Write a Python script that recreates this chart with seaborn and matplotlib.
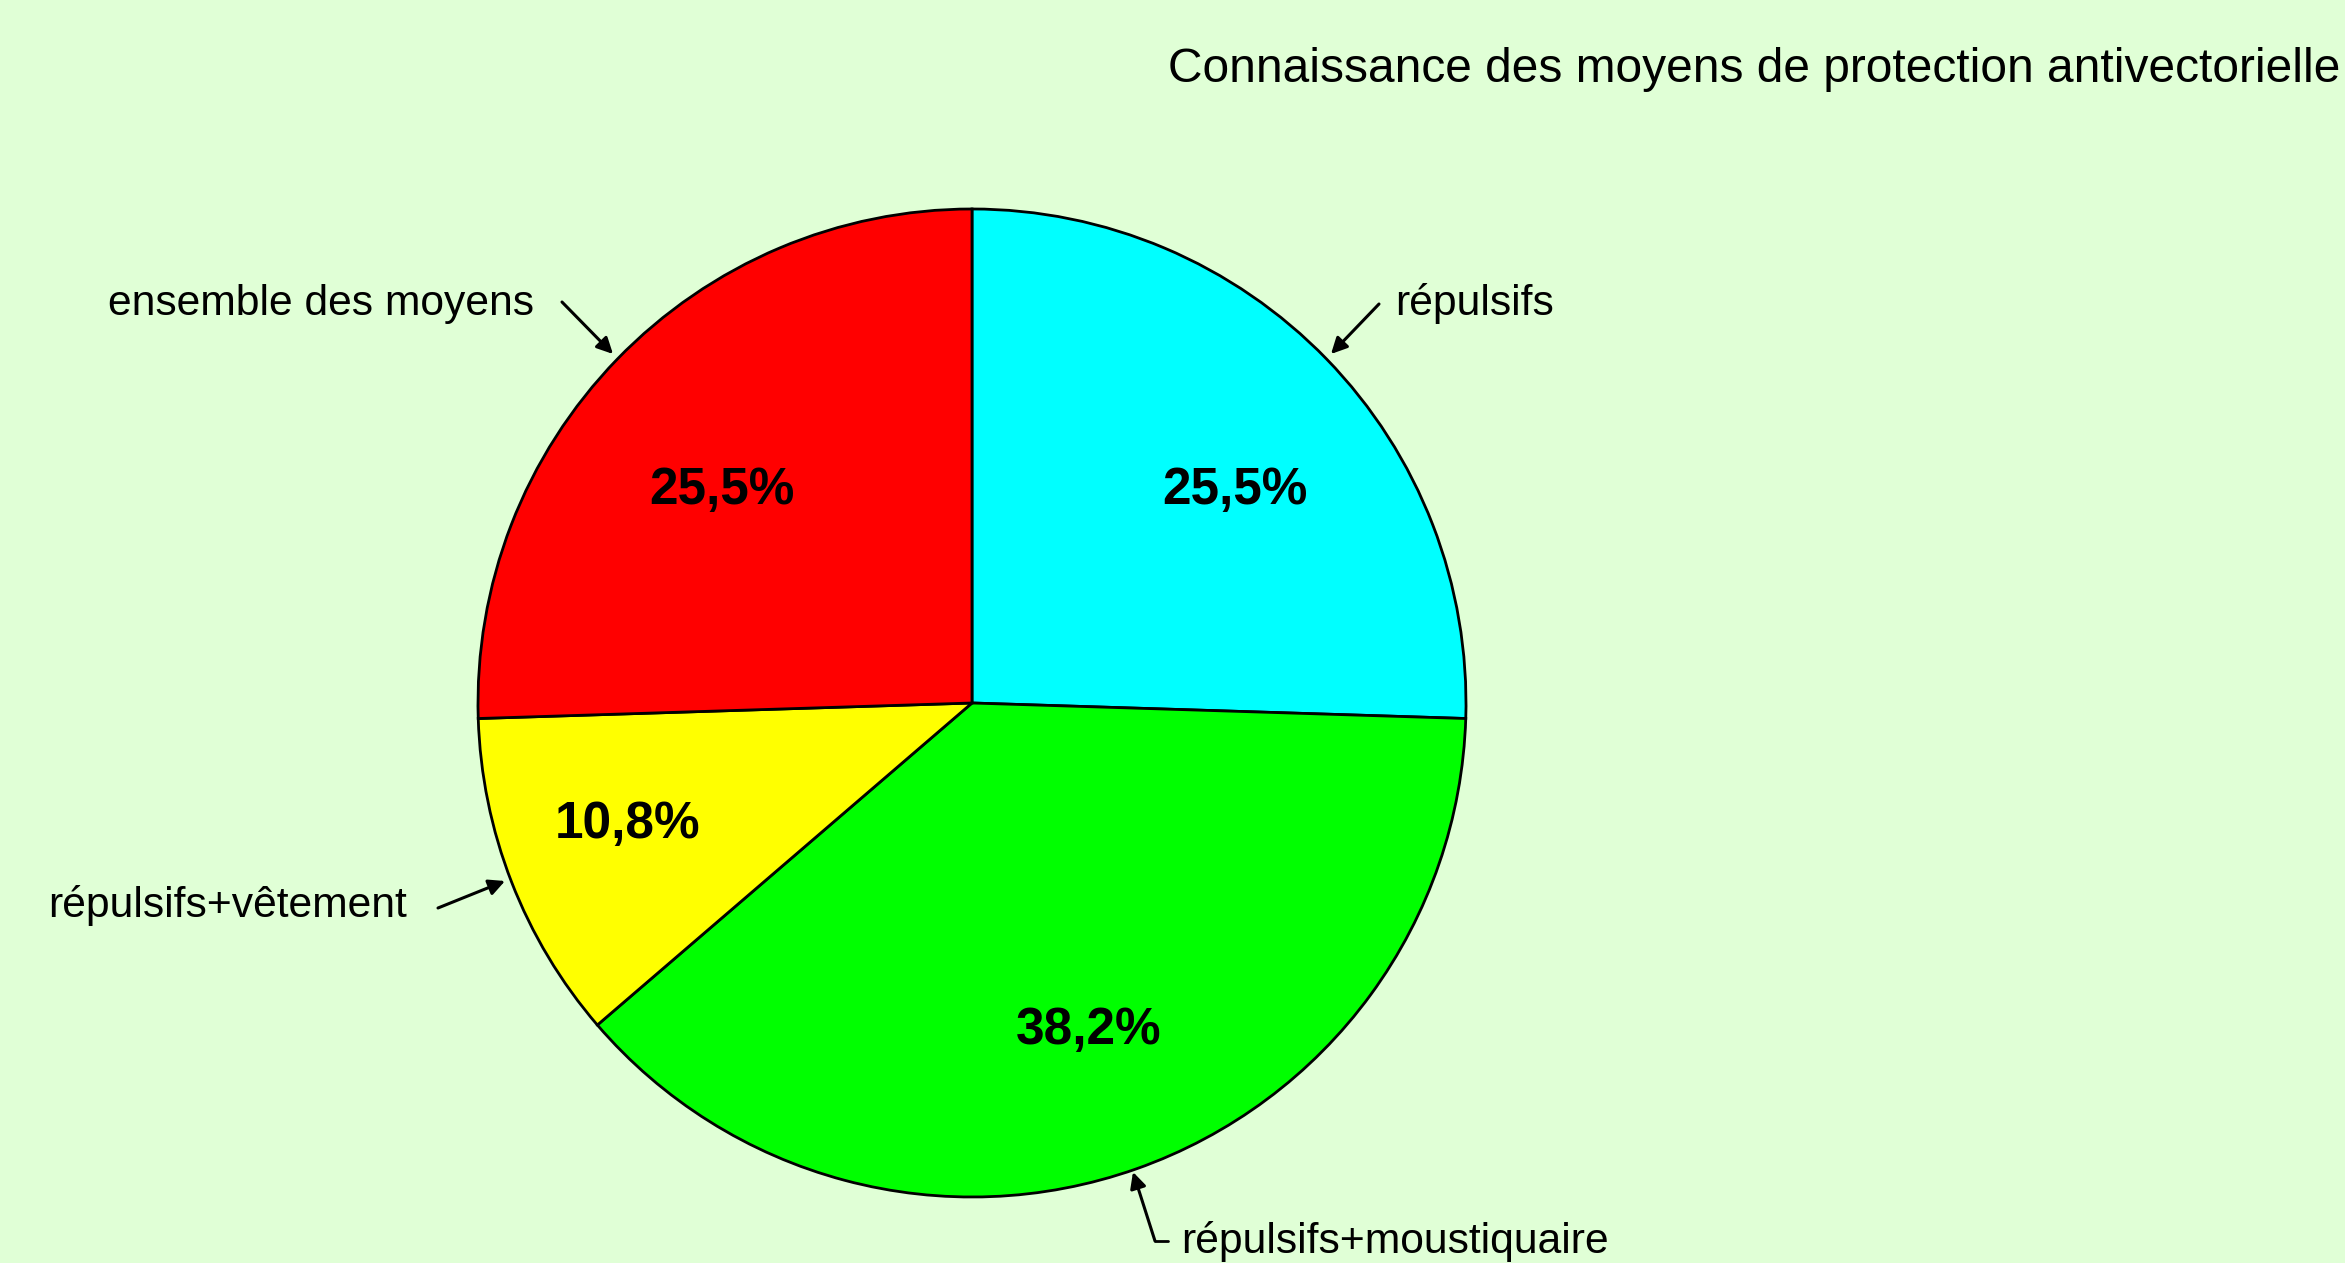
import matplotlib
matplotlib.use('Agg')
import matplotlib.pyplot as plt
import seaborn as sns

sns.set_style('white')
plt.rcParams['font.family'] = ['Liberation Sans', 'DejaVu Sans']
plt.rcParams['text.color'] = 'black'

# data
categories = ['répulsifs', 'répulsifs+moustiquaire', 'répulsifs+vêtement', 'ensemble des moyens']
values = [25.5, 38.2, 10.8, 25.5]
colors = ['#00FFFF', '#00FF00', '#FFFF00', '#FF0000']
title = 'Connaissance des moyens de protection antivectorielle'

W, H = 2345, 1263
bg = '#E0FFD6'

fig = plt.figure(figsize=(W / 100, H / 100), dpi=100, facecolor=bg)
ax = fig.add_axes([0, 0, 1, 1])
ax.set_facecolor(bg)

cx, cy, r = 972, H - 703, 494

wedges, texts, autotexts = ax.pie(
    values, colors=colors, startangle=90, counterclock=False,
    center=(cx, cy), radius=r, frame=True,
    autopct=lambda p: f'{p:.1f}%'.replace('.', ','), pctdistance=0.7,
    wedgeprops=dict(edgecolor='black', linewidth=2),
    textprops=dict(fontsize=37, fontweight='bold', color='black'))
ax.set_xlim(0, W)
ax.set_ylim(0, H)
ax.axis('off')

# percent label spots (pixels from top-left)
pct_pos = [(1235, 491), (1089, 1031), (628, 824), (722, 491)]
for t, (px, py) in zip(autotexts, pct_pos):
    t.set_position((px, H - py))
    t.set_ha('center')
    t.set_va('center')

fs = 30.7
arrow = dict(arrowstyle='-|>', color='black', lw=2.2, mutation_scale=24, shrinkA=0, shrinkB=0)

# répulsifs
ax.text(1395, H - 304, categories[0], fontsize=fs, ha='left', va='center', color='black')
ax.annotate('', xy=(1331, H - 354), xytext=(1379, H - 304), arrowprops=arrow)

# ensemble des moyens
ax.text(534, H - 304, categories[3], fontsize=fs, ha='right', va='center', color='black')
ax.annotate('', xy=(613, H - 354), xytext=(562, H - 302), arrowprops=arrow)

# répulsifs+vêtement
ax.text(407, H - 906, categories[2], fontsize=fs, ha='right', va='center', color='black')
ax.annotate('', xy=(505, H - 881), xytext=(438, H - 908), arrowprops=arrow)

# répulsifs+moustiquaire
ax.text(1181, H - 1241, categories[1], fontsize=fs, ha='left', va='center', color='black')
ax.plot([1155, 1168], [H - 1241, H - 1241], color='black', lw=2)
ax.annotate('', xy=(1133, H - 1172), xytext=(1155, H - 1241), arrowprops=arrow)

ax.text(2340, H - 70, title, fontsize=34.5, ha='right', va='center', color='black')

fig.savefig('out.png', dpi=100, facecolor=bg)
